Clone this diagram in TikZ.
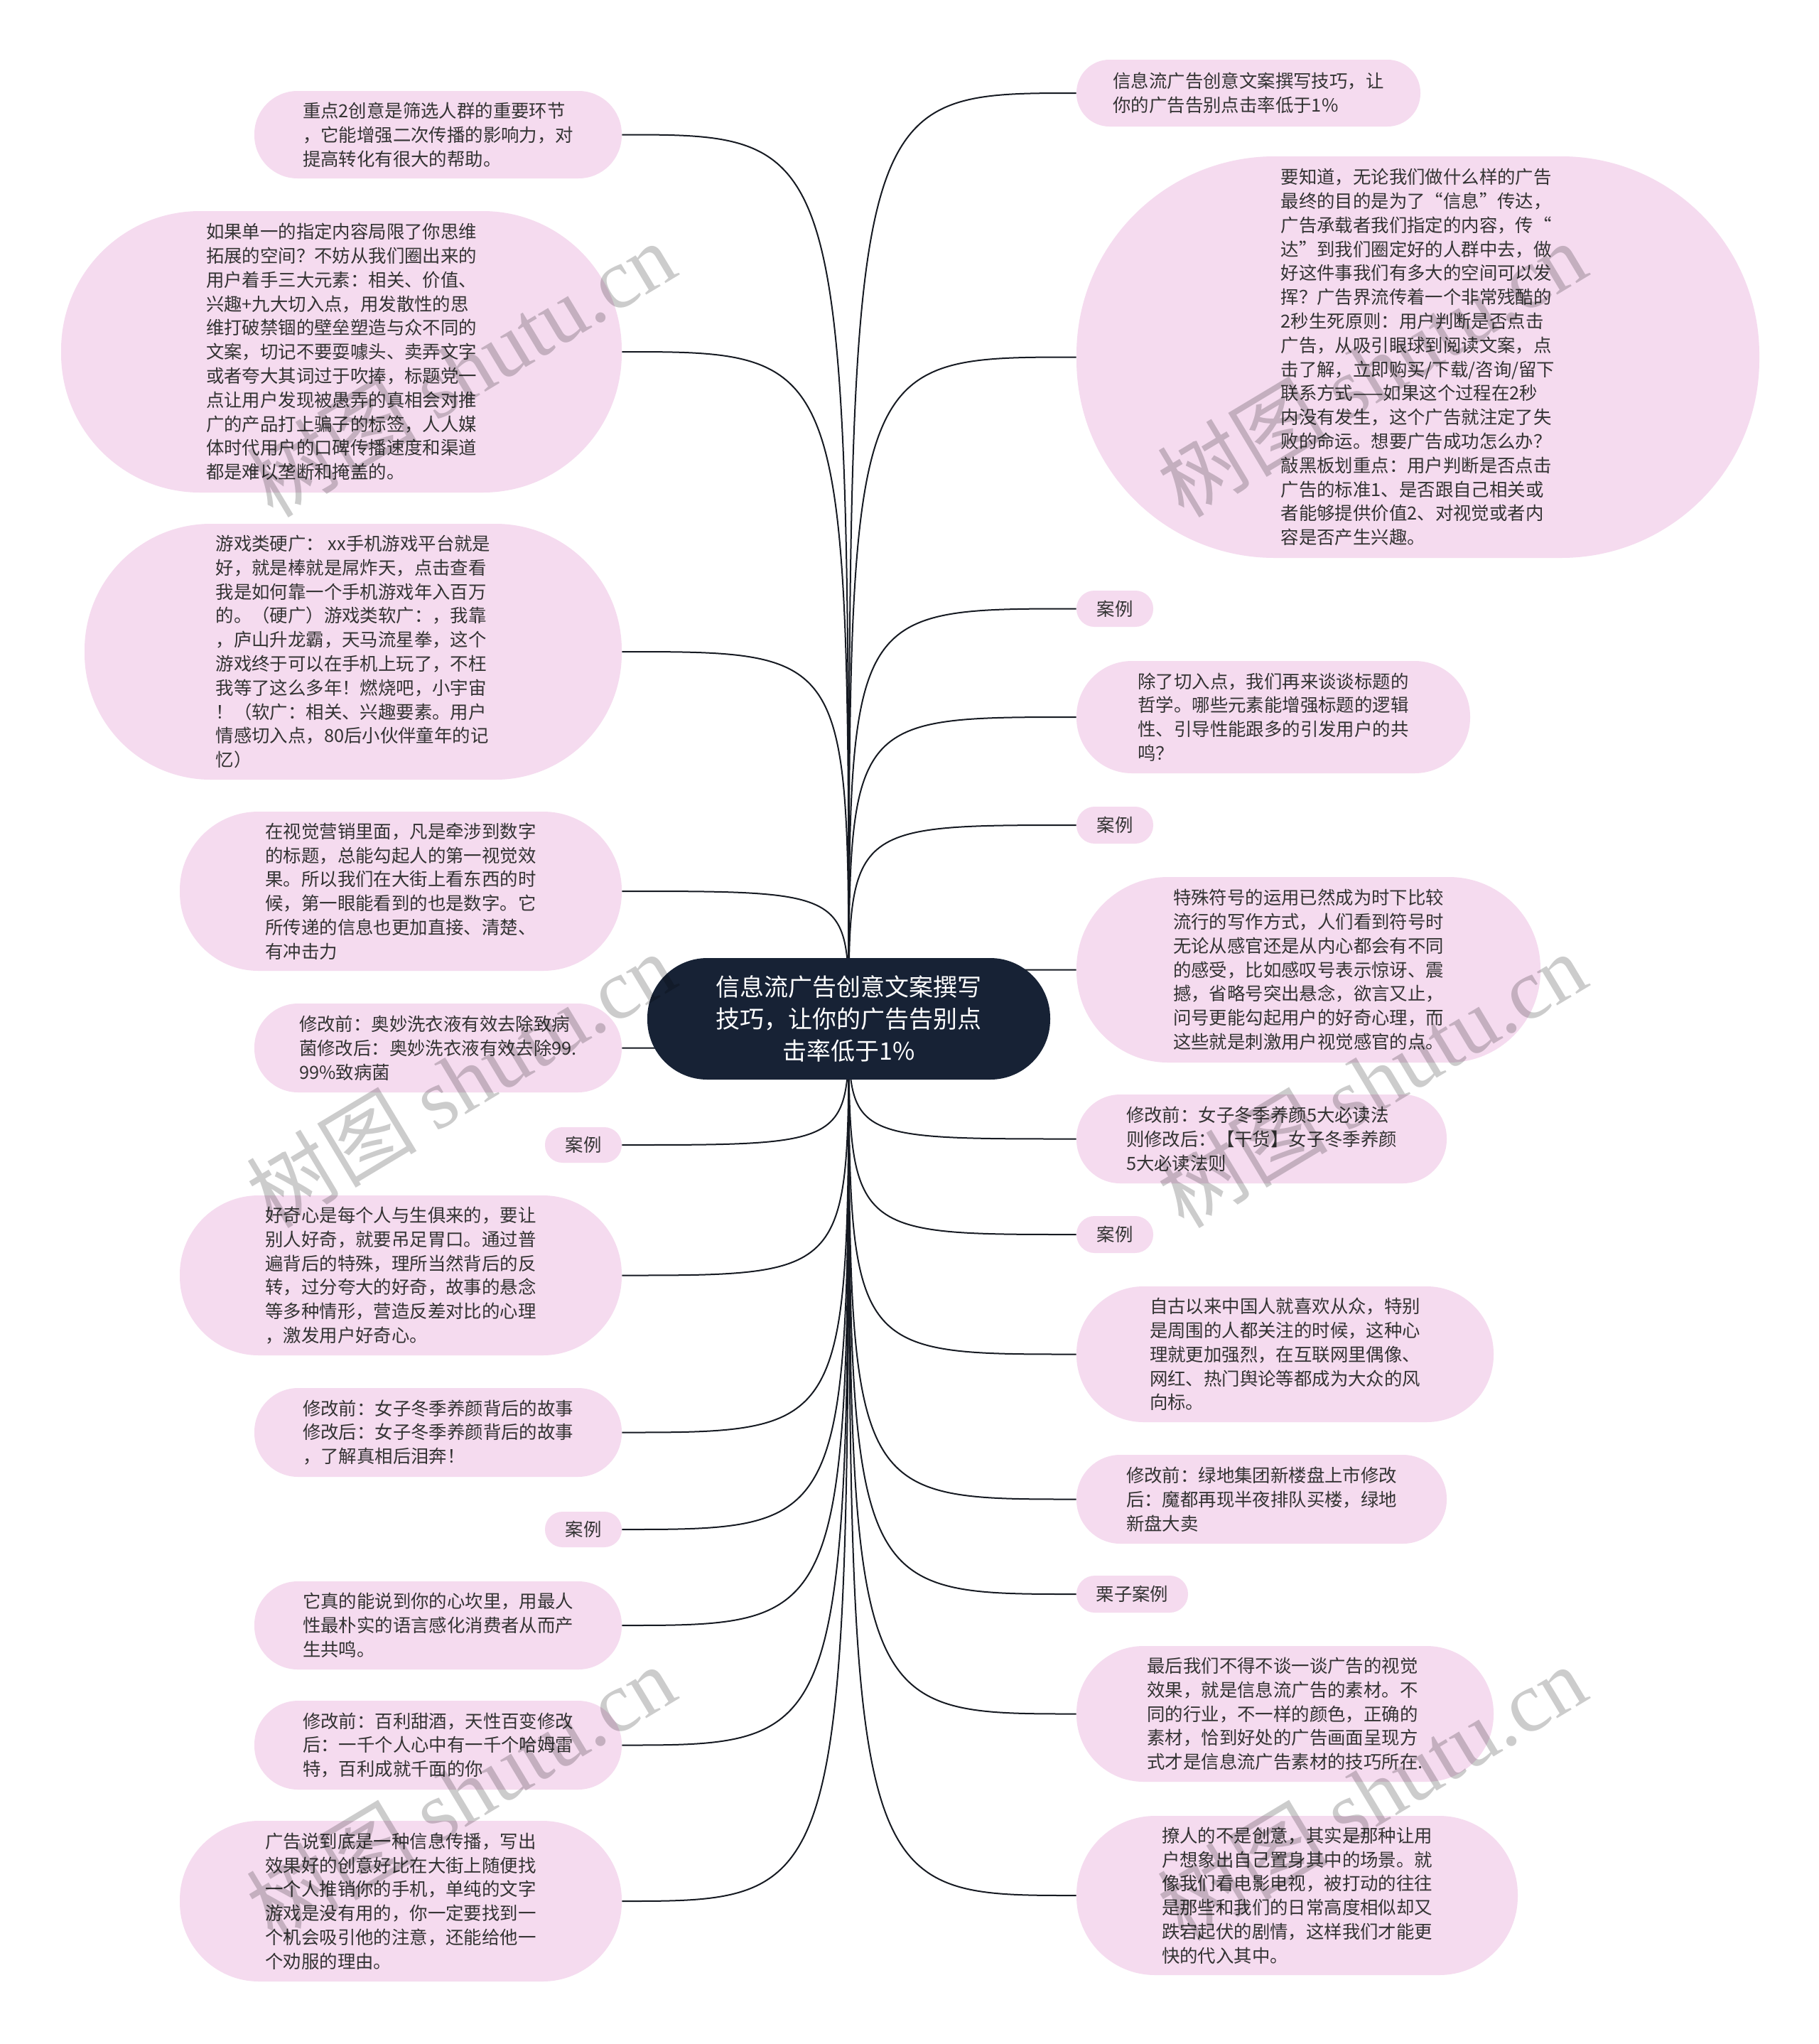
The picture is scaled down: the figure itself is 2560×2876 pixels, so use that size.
\documentclass[tikz,border=0pt]{standalone}
\usepackage{fontspec}
\setmainfont{Noto Sans CJK SC}
\newfontfamily\wmlatin{Liberation Serif}
\usetikzlibrary{backgrounds}
\definecolor{pinkc}{HTML}{F5DBEF}
\definecolor{navyc}{HTML}{172235}
\definecolor{txtc}{HTML}{333333}
\definecolor{linec}{HTML}{161A22}
\newcommand{\bub}[7]{%
  \pgfmathsetmacro\bcx{(#3+#5)/2}%
  \pgfmathsetmacro\bcy{(#4+#6)/2}%
  \pgfmathsetmacro\bw{(#5-#3)*0.5}%
  \pgfmathsetmacro\bh{(#6-#4)*0.5}%
  \pgfmathsetmacro\br{(#6-#4)*0.247}%
  \node[#1, minimum width=\bw pt, minimum height=\bh pt, rounded corners=\br pt] (#2) at (\bcx,\bcy) {#7};%
}
\begin{document}
\begin{tikzpicture}[x=0.5pt,y=-0.5pt,
  bubble/.style={fill=pinkc,text=txtc,align=left,inner sep=0pt,font=\fontsize{12.7}{16.9}\selectfont},
  rootbox/.style={fill=navyc,text=white,align=center,inner sep=0pt,font=\fontsize{17}{22.5}\selectfont},
  conn/.style={draw=linec,line width=1pt},
  wm/.style={text=black,text opacity=0.2,rotate=31,inner sep=0pt,font=\fontsize{60}{60}\selectfont}]
\useasboundingbox (0,0) rectangle (2560,2876);

% centre
\bub{rootbox}{ctr}{911}{1348}{1478}{1519}{信息流广告创意文案撰写\\技巧，让你的广告告别点\\击率低于1\%}

% left column
\bub{bubble}{L1}{358}{128}{875}{251}{重点2创意是筛选人群的重要环节\\，它能增强二次传播的影响力，对\\提高转化有很大的帮助。}
\bub{bubble}{L2}{86}{297}{875}{693}{如果单一的指定内容局限了你思维\\拓展的空间？不妨从我们圈出来的\\用户着手三大元素：相关、价值、\\兴趣+九大切入点，用发散性的思\\维打破禁锢的壁垒塑造与众不同的\\文案，切记不要耍噱头、卖弄文字\\或者夸大其词过于吹捧，标题党一\\点让用户发现被愚弄的真相会对推\\广的产品打上骗子的标签，人人媒\\体时代用户的口碑传播速度和渠道\\都是难以垄断和掩盖的。}
\bub{bubble}{L3}{119}{737}{875}{1097}{游戏类硬广： xx手机游戏平台就是\\好，就是棒就是屌炸天，点击查看\\我是如何靠一个手机游戏年入百万\\的。（硬广）游戏类软广：，我靠\\，庐山升龙霸，天马流星拳，这个\\游戏终于可以在手机上玩了，不枉\\我等了这么多年！燃烧吧，小宇宙\\！（软广：相关、兴趣要素。用户\\情感切入点，80后小伙伴童年的记\\忆）}
\bub{bubble}{L4}{253}{1142}{875}{1366}{在视觉营销里面，凡是牵涉到数字\\的标题，总能勾起人的第一视觉效\\果。所以我们在大街上看东西的时\\候，第一眼能看到的也是数字。它\\所传递的信息也更加直接、清楚、\\有冲击力}
\bub{bubble}{L5}{358}{1412}{875}{1537}{修改前：奥妙洗衣液有效去除致病\\菌修改后：奥妙洗衣液有效去除99.\\99\%致病菌}
\bub{bubble}{L6}{767}{1586}{875}{1636}{案例}
\bub{bubble}{L7}{253}{1682}{875}{1907}{好奇心是每个人与生俱来的，要让\\别人好奇，就要吊足胃口。通过普\\遍背后的特殊，理所当然背后的反\\转，过分夸大的好奇，故事的悬念\\等多种情形，营造反差对比的心理\\，激发用户好奇心。}
\bub{bubble}{L8}{358}{1953}{875}{2078}{修改前：女子冬季养颜背后的故事\\修改后：女子冬季养颜背后的故事\\，了解真相后泪奔！}
\bub{bubble}{L9}{767}{2127}{875}{2177}{案例}
\bub{bubble}{L10}{358}{2225}{875}{2349}{它真的能说到你的心坎里，用最人\\性最朴实的语言感化消费者从而产\\生共鸣。}
\bub{bubble}{L11}{358}{2393}{875}{2518}{修改前：百利甜酒，天性百变修改\\后：一千个人心中有一千个哈姆雷\\特，百利成就千面的你}
\bub{bubble}{L12}{253}{2562}{875}{2788}{广告说到底是一种信息传播，写出\\效果好的创意好比在大街上随便找\\一个人推销你的手机，单纯的文字\\游戏是没有用的，你一定要找到一\\个机会吸引他的注意，还能给他一\\个劝服的理由。}

% right column
\bub{bubble}{R1}{1515}{84}{1999}{178}{信息流广告创意文案撰写技巧，让\\你的广告告别点击率低于1\%}
\bub{bubble}{R2}{1515}{220}{2476}{785}{要知道，无论我们做什么样的广告\\最终的目的是为了“信息”传达，\\广告承载者我们指定的内容，传“\\达”到我们圈定好的人群中去，做\\好这件事我们有多大的空间可以发\\挥？广告界流传着一个非常残酷的\\2秒生死原则：用户判断是否点击\\广告，从吸引眼球到阅读文案，点\\击了解，立即购买/下载/咨询/留下\\联系方式——如果这个过程在2秒\\内没有发生，这个广告就注定了失\\败的命运。想要广告成功怎么办？\\敲黑板划重点：用户判断是否点击\\广告的标准1、是否跟自己相关或\\者能够提供价值2、对视觉或者内\\容是否产生兴趣。}
\bub{bubble}{R3}{1515}{831}{1623}{882}{案例}
\bub{bubble}{R4}{1515}{930}{2069}{1088}{除了切入点，我们再来谈谈标题的\\哲学。哪些元素能增强标题的逻辑\\性、引导性能跟多的引发用户的共\\鸣？}
\bub{bubble}{R5}{1515}{1135}{1623}{1187}{案例}
\bub{bubble}{R6}{1515}{1234}{2168}{1495}{特殊符号的运用已然成为时下比较\\流行的写作方式，人们看到符号时\\无论从感官还是从内心都会有不同\\的感受，比如感叹号表示惊讶、震\\撼，省略号突出悬念，欲言又止，\\问号更能勾起用户的好奇心理，而\\这些就是刺激用户视觉感官的点。}
\bub{bubble}{R7}{1515}{1540}{2036}{1665}{修改前：女子冬季养颜5大必读法\\则修改后：【干货】女子冬季养颜\\5大必读法则}
\bub{bubble}{R8}{1515}{1711}{1623}{1763}{案例}
\bub{bubble}{R9}{1515}{1810}{2102}{2001}{自古以来中国人就喜欢从众，特别\\是周围的人都关注的时候，这种心\\理就更加强烈，在互联网里偶像、\\网红、热门舆论等都成为大众的风\\向标。}
\bub{bubble}{R10}{1515}{2047}{2036}{2172}{修改前：绿地集团新楼盘上市修改\\后：魔都再现半夜排队买楼，绿地\\新盘大卖}
\bub{bubble}{R11}{1515}{2217}{1672}{2269}{栗子案例}
\bub{bubble}{R12}{1515}{2316}{2102}{2507}{最后我们不得不谈一谈广告的视觉\\效果，就是信息流广告的素材。不\\同的行业，不一样的颜色，正确的\\素材，恰到好处的广告画面呈现方\\式才是信息流广告素材的技巧所在.}
\bub{bubble}{R13}{1515}{2555}{2136}{2779}{撩人的不是创意，其实是那种让用\\户想象出自己置身其中的场景。就\\像我们看电影电视，被打动的往往\\是那些和我们的日常高度相似却又\\跌宕起伏的剧情，这样我们才能更\\快的代入其中。}

\begin{scope}[on background layer]
\fill[white] (0,0) rectangle (2560,2876);
\foreach \n in {L1,L2,L3,L4,L5,L6,L7,L8,L9,L10,L11,L12}
  \draw[conn] (ctr.center) .. controls (ctr.center |- \n.east) .. (\n.east);
\foreach \n in {R1,R2,R3,R4,R5,R6,R7,R8,R9,R10,R11,R12,R13}
  \draw[conn] (ctr.center) .. controls (ctr.center |- \n.west) .. (\n.west);
\end{scope}

% watermarks
\node[wm] (wm1) at (648,519) {树图 {\wmlatin shutu.cn}};
\node[wm] (wm2) at (1930,519) {树图 {\wmlatin shutu.cn}};
\node[wm] (wm3) at (648,1519) {树图 {\wmlatin shutu.cn}};
\node[wm] (wm4) at (1930,1519) {树图 {\wmlatin shutu.cn}};
\node[wm] (wm5) at (648,2522) {树图 {\wmlatin shutu.cn}};
\node[wm] (wm6) at (1930,2522) {树图 {\wmlatin shutu.cn}};
\end{tikzpicture}
\end{document}
